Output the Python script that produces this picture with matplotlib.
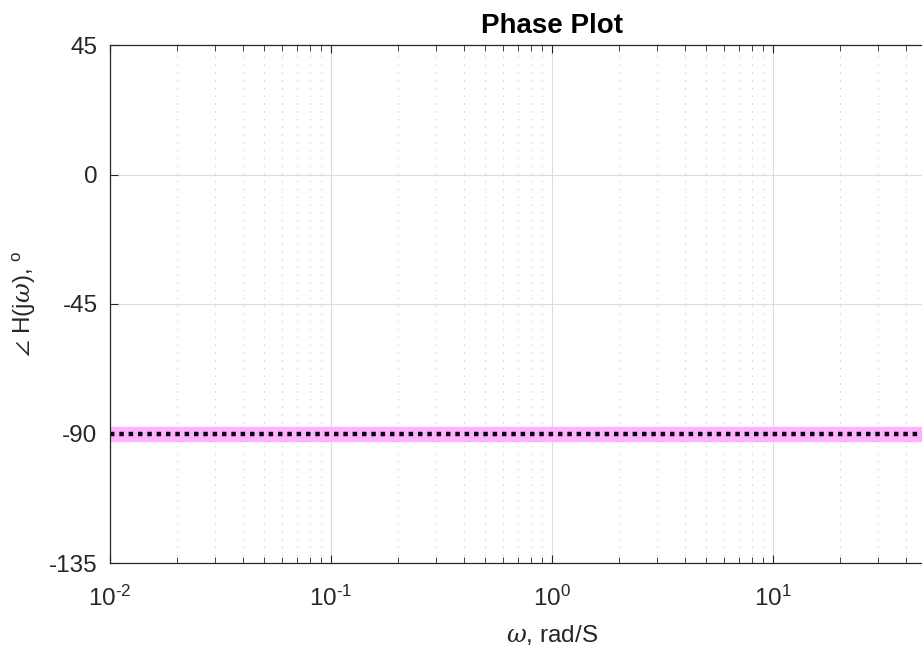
import matplotlib
matplotlib.use('Agg')
import matplotlib.pyplot as plt
from matplotlib.ticker import LogLocator, NullFormatter, FixedLocator, FixedFormatter

plt.rcParams['font.family'] = ['Liberation Sans', 'DejaVu Sans']
plt.rcParams['mathtext.fontset'] = 'custom'
plt.rcParams['mathtext.rm'] = 'Liberation Sans'
plt.rcParams['mathtext.it'] = 'DejaVu Serif:italic'
plt.rcParams['axes.unicode_minus'] = False

# frequency points and phase of H(jw) (pure integrator: constant -90 deg)
w = [0.01, 0.1, 1, 10, 100]
phase_exact = [-90, -90, -90, -90, -90]
phase_approx = [-90, -90, -90, -90, -90]
yticks = [-135, -90, -45, 0, 45]
xticks = [0.01, 0.1, 1, 10]
xticklabels = [r'$\mathrm{10^{\text{-}2}}$', r'$\mathrm{10^{\text{-}1}}$', r'$\mathrm{10^{0}}$',
               r'$\mathrm{10^{1}}$']

fig = plt.figure(figsize=(9.22, 6.53), dpi=100)
# axes run on past the right edge of the figure (x limit 10^2)
ax = fig.add_axes([110 / 922, 90 / 653, 884 / 922, 518 / 653])

ax.semilogx(w, phase_exact, color='#FFB0FF', linewidth=11, solid_capstyle='butt')
ax.semilogx(w, phase_approx, color='black', linewidth=3.2, linestyle=(0, (1, 1.1)))

ax.set_xlim(0.01, 100)
ax.set_ylim(-135, 45)
ax.yaxis.set_major_locator(FixedLocator(yticks))
ax.xaxis.set_major_locator(FixedLocator(xticks))
ax.xaxis.set_major_formatter(FixedFormatter(xticklabels))
ax.xaxis.set_minor_locator(LogLocator(base=10, subs=range(2, 10), numticks=20))
ax.xaxis.set_minor_formatter(NullFormatter())

ax.grid(True, which='major', color='#dcdcdc', linewidth=0.8, linestyle='-')
ax.grid(True, which='minor', axis='x', color='#c8c8c8', linewidth=0.8, linestyle=(0, (1, 6)))
ax.set_axisbelow(True)

ax.tick_params(which='both', direction='in', top=True, right=True, labelsize=17.5, colors='#262626')
ax.tick_params(axis='y', pad=9)
ax.tick_params(axis='x', pad=16)
ax.tick_params(which='major', length=6)
ax.tick_params(which='minor', length=4)
for s in ax.spines.values():
    s.set_color('#262626')
    s.set_linewidth(0.9)

ax.set_title('Phase Plot', fontsize=20, fontweight='bold', pad=8.5)
ax.set_xlabel(r'$\omega$, rad/S', fontsize=17.5, color='#262626', labelpad=9)
ax.set_ylabel(r'$\angle$ H(j$\omega$), $^\mathrm{o}$', fontsize=17.5, color='#262626', labelpad=8)

fig.savefig('out.png', dpi=100)
